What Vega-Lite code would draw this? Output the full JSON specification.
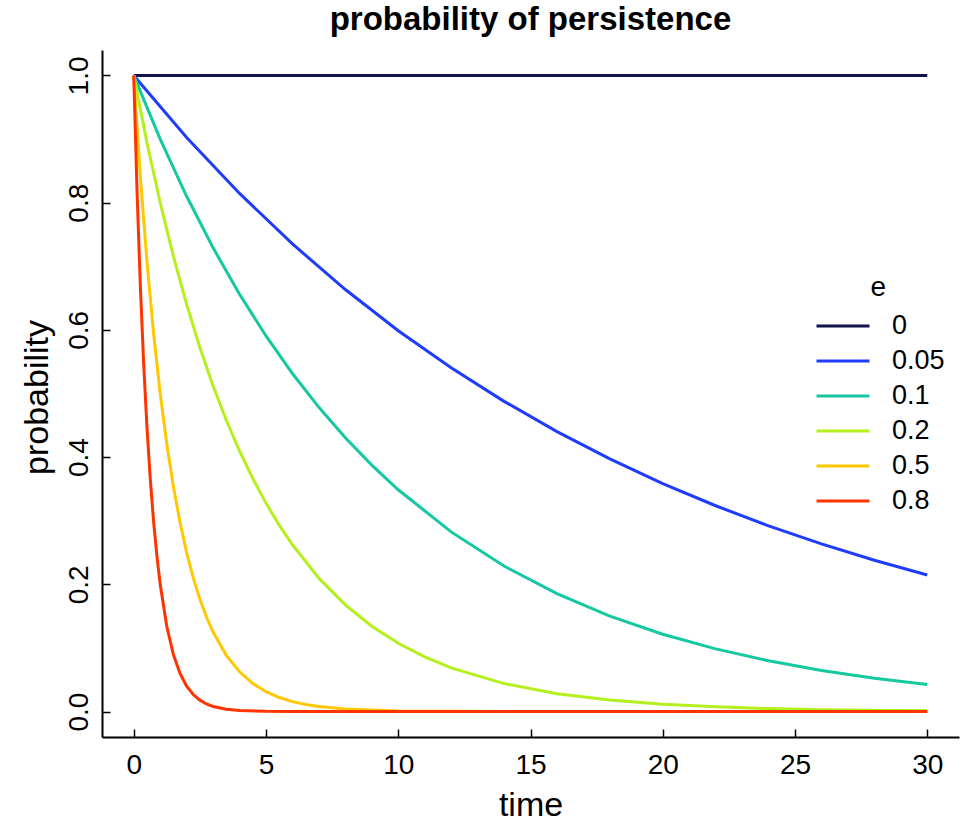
{
  "$schema": "https://vega.github.io/schema/vega-lite/v6.json",
  "width": 857,
  "height": 687,
  "autosize": {"type": "none"},
  "padding": {"left": 102, "top": 50, "right": 10, "bottom": 82},
  "background": "white",
  "config": {"view": {"stroke": null}, "font": "Liberation Sans"},
  "title": {"text": "probability of persistence", "fontSize": 33, "font": "Liberation Sans", "fontWeight": "bold", "color": "black", "anchor": "middle", "baseline": "alphabetic", "offset": 22, "dy": 35},
  "data": {"values": [
    {"t": 0, "e": "0", "p": 1}, {"t": 30, "e": "0", "p": 1},
    {"t": 0, "e": "0.05", "p": 1}, {"t": 2, "e": "0.05", "p": 0.9025}, {"t": 4, "e": "0.05", "p": 0.81451}, {"t": 6, "e": "0.05", "p": 0.73509}, {"t": 8, "e": "0.05", "p": 0.66342}, {"t": 10, "e": "0.05", "p": 0.59874}, {"t": 12, "e": "0.05", "p": 0.54036}, {"t": 14, "e": "0.05", "p": 0.48767}, {"t": 16, "e": "0.05", "p": 0.44013}, {"t": 18, "e": "0.05", "p": 0.39721}, {"t": 20, "e": "0.05", "p": 0.35849}, {"t": 22, "e": "0.05", "p": 0.32353}, {"t": 24, "e": "0.05", "p": 0.29199}, {"t": 26, "e": "0.05", "p": 0.26352}, {"t": 28, "e": "0.05", "p": 0.23783}, {"t": 30, "e": "0.05", "p": 0.21464},
    {"t": 0, "e": "0.1", "p": 1}, {"t": 1, "e": "0.1", "p": 0.9}, {"t": 2, "e": "0.1", "p": 0.81}, {"t": 3, "e": "0.1", "p": 0.729}, {"t": 4, "e": "0.1", "p": 0.6561}, {"t": 5, "e": "0.1", "p": 0.59049}, {"t": 6, "e": "0.1", "p": 0.53144}, {"t": 7, "e": "0.1", "p": 0.4783}, {"t": 8, "e": "0.1", "p": 0.43047}, {"t": 9, "e": "0.1", "p": 0.38742}, {"t": 10, "e": "0.1", "p": 0.34868}, {"t": 12, "e": "0.1", "p": 0.28243}, {"t": 14, "e": "0.1", "p": 0.22877}, {"t": 16, "e": "0.1", "p": 0.1853}, {"t": 18, "e": "0.1", "p": 0.15009}, {"t": 20, "e": "0.1", "p": 0.12158}, {"t": 22, "e": "0.1", "p": 0.09848}, {"t": 24, "e": "0.1", "p": 0.07977}, {"t": 26, "e": "0.1", "p": 0.06461}, {"t": 28, "e": "0.1", "p": 0.05233}, {"t": 30, "e": "0.1", "p": 0.04239},
    {"t": 0, "e": "0.2", "p": 1}, {"t": 0.5, "e": "0.2", "p": 0.89443}, {"t": 1, "e": "0.2", "p": 0.8}, {"t": 1.5, "e": "0.2", "p": 0.71554}, {"t": 2, "e": "0.2", "p": 0.64}, {"t": 2.5, "e": "0.2", "p": 0.57243}, {"t": 3, "e": "0.2", "p": 0.512}, {"t": 3.5, "e": "0.2", "p": 0.45795}, {"t": 4, "e": "0.2", "p": 0.4096}, {"t": 4.5, "e": "0.2", "p": 0.36636}, {"t": 5, "e": "0.2", "p": 0.32768}, {"t": 5.5, "e": "0.2", "p": 0.29309}, {"t": 6, "e": "0.2", "p": 0.26214}, {"t": 7, "e": "0.2", "p": 0.20972}, {"t": 8, "e": "0.2", "p": 0.16777}, {"t": 9, "e": "0.2", "p": 0.13422}, {"t": 10, "e": "0.2", "p": 0.10737}, {"t": 11, "e": "0.2", "p": 0.0859}, {"t": 12, "e": "0.2", "p": 0.06872}, {"t": 14, "e": "0.2", "p": 0.04398}, {"t": 16, "e": "0.2", "p": 0.02815}, {"t": 18, "e": "0.2", "p": 0.01801}, {"t": 20, "e": "0.2", "p": 0.01153}, {"t": 22, "e": "0.2", "p": 0.00738}, {"t": 24, "e": "0.2", "p": 0.00472}, {"t": 26, "e": "0.2", "p": 0.00302}, {"t": 28, "e": "0.2", "p": 0.00193}, {"t": 30, "e": "0.2", "p": 0.00124},
    {"t": 0, "e": "0.5", "p": 1}, {"t": 0.25, "e": "0.5", "p": 0.8409}, {"t": 0.5, "e": "0.5", "p": 0.70711}, {"t": 0.75, "e": "0.5", "p": 0.5946}, {"t": 1, "e": "0.5", "p": 0.5}, {"t": 1.25, "e": "0.5", "p": 0.42045}, {"t": 1.5, "e": "0.5", "p": 0.35355}, {"t": 1.75, "e": "0.5", "p": 0.2973}, {"t": 2, "e": "0.5", "p": 0.25}, {"t": 2.25, "e": "0.5", "p": 0.21022}, {"t": 2.5, "e": "0.5", "p": 0.17678}, {"t": 2.75, "e": "0.5", "p": 0.14865}, {"t": 3, "e": "0.5", "p": 0.125}, {"t": 3.5, "e": "0.5", "p": 0.08839}, {"t": 4, "e": "0.5", "p": 0.0625}, {"t": 4.5, "e": "0.5", "p": 0.04419}, {"t": 5, "e": "0.5", "p": 0.03125}, {"t": 5.5, "e": "0.5", "p": 0.0221}, {"t": 6, "e": "0.5", "p": 0.01563}, {"t": 6.5, "e": "0.5", "p": 0.01105}, {"t": 7, "e": "0.5", "p": 0.00781}, {"t": 8, "e": "0.5", "p": 0.00391}, {"t": 10, "e": "0.5", "p": 0.00098}, {"t": 15, "e": "0.5", "p": 0.00003}, {"t": 20, "e": "0.5", "p": 0}, {"t": 30, "e": "0.5", "p": 0},
    {"t": 0, "e": "0.8", "p": 1}, {"t": 0.125, "e": "0.8", "p": 0.81777}, {"t": 0.25, "e": "0.8", "p": 0.66874}, {"t": 0.375, "e": "0.8", "p": 0.54688}, {"t": 0.5, "e": "0.8", "p": 0.44721}, {"t": 0.625, "e": "0.8", "p": 0.36571}, {"t": 0.75, "e": "0.8", "p": 0.29907}, {"t": 0.875, "e": "0.8", "p": 0.24458}, {"t": 1, "e": "0.8", "p": 0.2}, {"t": 1.25, "e": "0.8", "p": 0.13375}, {"t": 1.5, "e": "0.8", "p": 0.08944}, {"t": 1.75, "e": "0.8", "p": 0.05981}, {"t": 2, "e": "0.8", "p": 0.04}, {"t": 2.25, "e": "0.8", "p": 0.02675}, {"t": 2.5, "e": "0.8", "p": 0.01789}, {"t": 2.75, "e": "0.8", "p": 0.01196}, {"t": 3, "e": "0.8", "p": 0.008}, {"t": 3.5, "e": "0.8", "p": 0.00358}, {"t": 4, "e": "0.8", "p": 0.0016}, {"t": 5, "e": "0.8", "p": 0.00032}, {"t": 6, "e": "0.8", "p": 0.00006}, {"t": 10, "e": "0.8", "p": 0}, {"t": 30, "e": "0.8", "p": 0}
  ]},
  "mark": {"type": "line", "strokeWidth": 3, "interpolate": "linear"},
  "encoding": {
    "x": {"field": "t", "type": "quantitative",
      "scale": {"domain": [-1.2, 31.2], "nice": false, "zero": false},
      "axis": {"values": [0, 5, 10, 15, 20, 25, 30], "grid": false, "tickSize": -8, "tickWidth": 1.5, "tickColor": "black", "domainColor": "black", "domainWidth": 2, "labelPadding": 22, "labelFontSize": 28, "labelFont": "Liberation Sans", "labelColor": "black", "labelFlush": false, "labelOverlap": false, "labelBaseline": "top", "title": "time", "titleFontSize": 34, "titleFont": "Liberation Sans", "titleFontWeight": "normal", "titleColor": "black", "titleY": 78, "titleBaseline": "alphabetic"}},
    "y": {"field": "p", "type": "quantitative",
      "scale": {"domain": [-0.04, 1.04], "nice": false, "zero": false},
      "axis": {"values": [0, 0.2, 0.4, 0.6, 0.8, 1.0], "format": ".1f", "grid": false, "tickSize": -8, "tickWidth": 1.5, "tickColor": "black", "domainColor": "black", "domainWidth": 2, "labelPadding": 23, "labelFontSize": 28, "labelFont": "Liberation Sans", "labelColor": "black", "labelAngle": 270, "labelAlign": "center", "labelBaseline": "alphabetic", "labelFlush": false, "labelOverlap": false, "title": "probability", "titleFontSize": 34, "titleFont": "Liberation Sans", "titleFontWeight": "normal", "titleColor": "black", "titleAngle": 270, "titleX": -55, "titleY": 347, "titleAlign": "center", "titleBaseline": "alphabetic"}},
    "color": {"field": "e", "type": "nominal",
      "scale": {"domain": ["0", "0.05", "0.1", "0.2", "0.5", "0.8"], "range": ["#12124d", "#1e3cff", "#14c8a0", "#b4f01e", "#ffc800", "#ff3300"]},
      "legend": {"orient": "none", "legendX": 726, "legendY": 224, "title": "e", "titleFontSize": 28, "titleFont": "Liberation Sans", "titleFontWeight": "normal", "titleColor": "black", "titleAnchor": "middle", "titleAlign": "right", "titlePadding": 9, "labelFontSize": 27, "labelFont": "Liberation Sans", "labelColor": "black", "symbolType": "M-2,0H2", "symbolSize": 702, "symbolStrokeWidth": 3, "symbolFillColor": "transparent", "labelOffset": 34, "rowPadding": 7}}
  }
}
